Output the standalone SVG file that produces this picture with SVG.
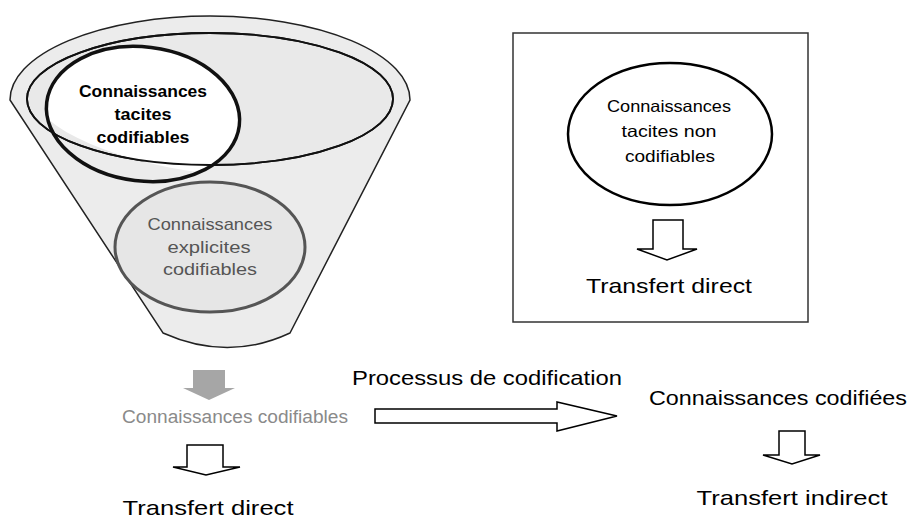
<svg xmlns="http://www.w3.org/2000/svg" width="910" height="520" viewBox="0 0 910 520">
<defs>
<style>
.t{font-family:"Liberation Sans",Arial,sans-serif;fill:#000;}
.hollow{fill:#fff;stroke:#000;stroke-width:1.5;stroke-linejoin:miter;}
</style>
<clipPath id="innerClip"><ellipse cx="210" cy="99" rx="183" ry="66"/></clipPath>
</defs>
<rect width="910" height="520" fill="#fff"/>
<g id="funnel">
<path d="M10,100 A200,84 0 0 1 410,100 L290,333 Q228,362 163,333 Z" fill="#ececec" stroke="#222" stroke-width="1.5"/>
<ellipse cx="210" cy="99" rx="183" ry="66" fill="#e9e9e9" stroke="#111" stroke-width="1.8"/>
</g>
<g id="tacites-codifiables">
<ellipse cx="143" cy="114" rx="97" ry="67" transform="rotate(7 143 114)" fill="#fff" clip-path="url(#innerClip)"/>
<ellipse cx="143" cy="114" rx="97" ry="67" transform="rotate(7 143 114)" fill="none" stroke="#111" stroke-width="3.5"/>
<ellipse cx="210" cy="99" rx="183" ry="66" fill="none" stroke="#111" stroke-width="1.8"/>
<text class="t" font-weight="bold" font-size="17" text-anchor="middle"><tspan x="143" y="97" textLength="128" lengthAdjust="spacingAndGlyphs">Connaissances</tspan><tspan x="143" y="120" textLength="57" lengthAdjust="spacingAndGlyphs">tacites</tspan><tspan x="143" y="143" textLength="93" lengthAdjust="spacingAndGlyphs">codifiables</tspan></text>
</g>
<g id="explicites-codifiables">
<ellipse cx="210" cy="247" rx="95" ry="65" fill="#e6e6e6" stroke="#555" stroke-width="3"/>
<text class="t" font-size="17" text-anchor="middle" style="fill:#555"><tspan x="210" y="230" textLength="125" lengthAdjust="spacingAndGlyphs">Connaissances</tspan><tspan x="209" y="253" textLength="83" lengthAdjust="spacingAndGlyphs">explicites</tspan><tspan x="210" y="275" textLength="94" lengthAdjust="spacingAndGlyphs">codifiables</tspan></text>
</g>
<g id="non-codifiables-box">
<rect x="513" y="33" width="295" height="289" fill="#fff" stroke="#333" stroke-width="1.5"/>
<ellipse cx="670" cy="134" rx="102" ry="71" fill="#fff" stroke="#000" stroke-width="2.5"/>
<text class="t" font-size="16.5" text-anchor="middle"><tspan x="669" y="112" textLength="124" lengthAdjust="spacingAndGlyphs">Connaissances</tspan><tspan x="669" y="137" textLength="95" lengthAdjust="spacingAndGlyphs">tacites non</tspan><tspan x="670" y="162" textLength="90" lengthAdjust="spacingAndGlyphs">codifiables</tspan></text>
<text class="t" x="669" y="293" font-size="21" text-anchor="middle" textLength="166" lengthAdjust="spacingAndGlyphs">Transfert direct</text>
</g>
<g id="codifiables">
<text class="t" x="235" y="423" font-size="17.5" text-anchor="middle" textLength="226" lengthAdjust="spacingAndGlyphs" style="fill:#8a8a8a">Connaissances codifiables</text>
</g>
<g id="transfert-direct-left">
<text class="t" x="208" y="515" font-size="21" text-anchor="middle" textLength="171" lengthAdjust="spacingAndGlyphs">Transfert direct</text>
</g>
<g id="codifiees">
<text class="t" x="778" y="405" font-size="21" text-anchor="middle" textLength="258" lengthAdjust="spacingAndGlyphs">Connaissances codifiées</text>
</g>
<g id="transfert-indirect">
<text class="t" x="792" y="505" font-size="21" text-anchor="middle" textLength="191" lengthAdjust="spacingAndGlyphs">Transfert indirect</text>
</g>
<g id="connectors">
<path d="M193,370 H225 V388 H235 L209,400 L183,388 H193 Z" fill="#a6a6a6" stroke="none"/>
<path class="hollow" d="M187,445 H223 V467 H240 L206,475 L173,467 H187 Z"/>
<path class="hollow" d="M653,220 H683 V249 H697 L667,260 L637,249 H653 Z"/>
<path class="hollow" d="M779,431 H805 V455 H820 L792,464 L763,455 H779 Z"/>
<path class="hollow" d="M375,409 H557 V402 L617,416 L557,431 V423 H375 Z"/>
<text class="t" x="487" y="385" font-size="21" text-anchor="middle" textLength="270" lengthAdjust="spacingAndGlyphs">Processus de codification</text>
</g>
</svg>
